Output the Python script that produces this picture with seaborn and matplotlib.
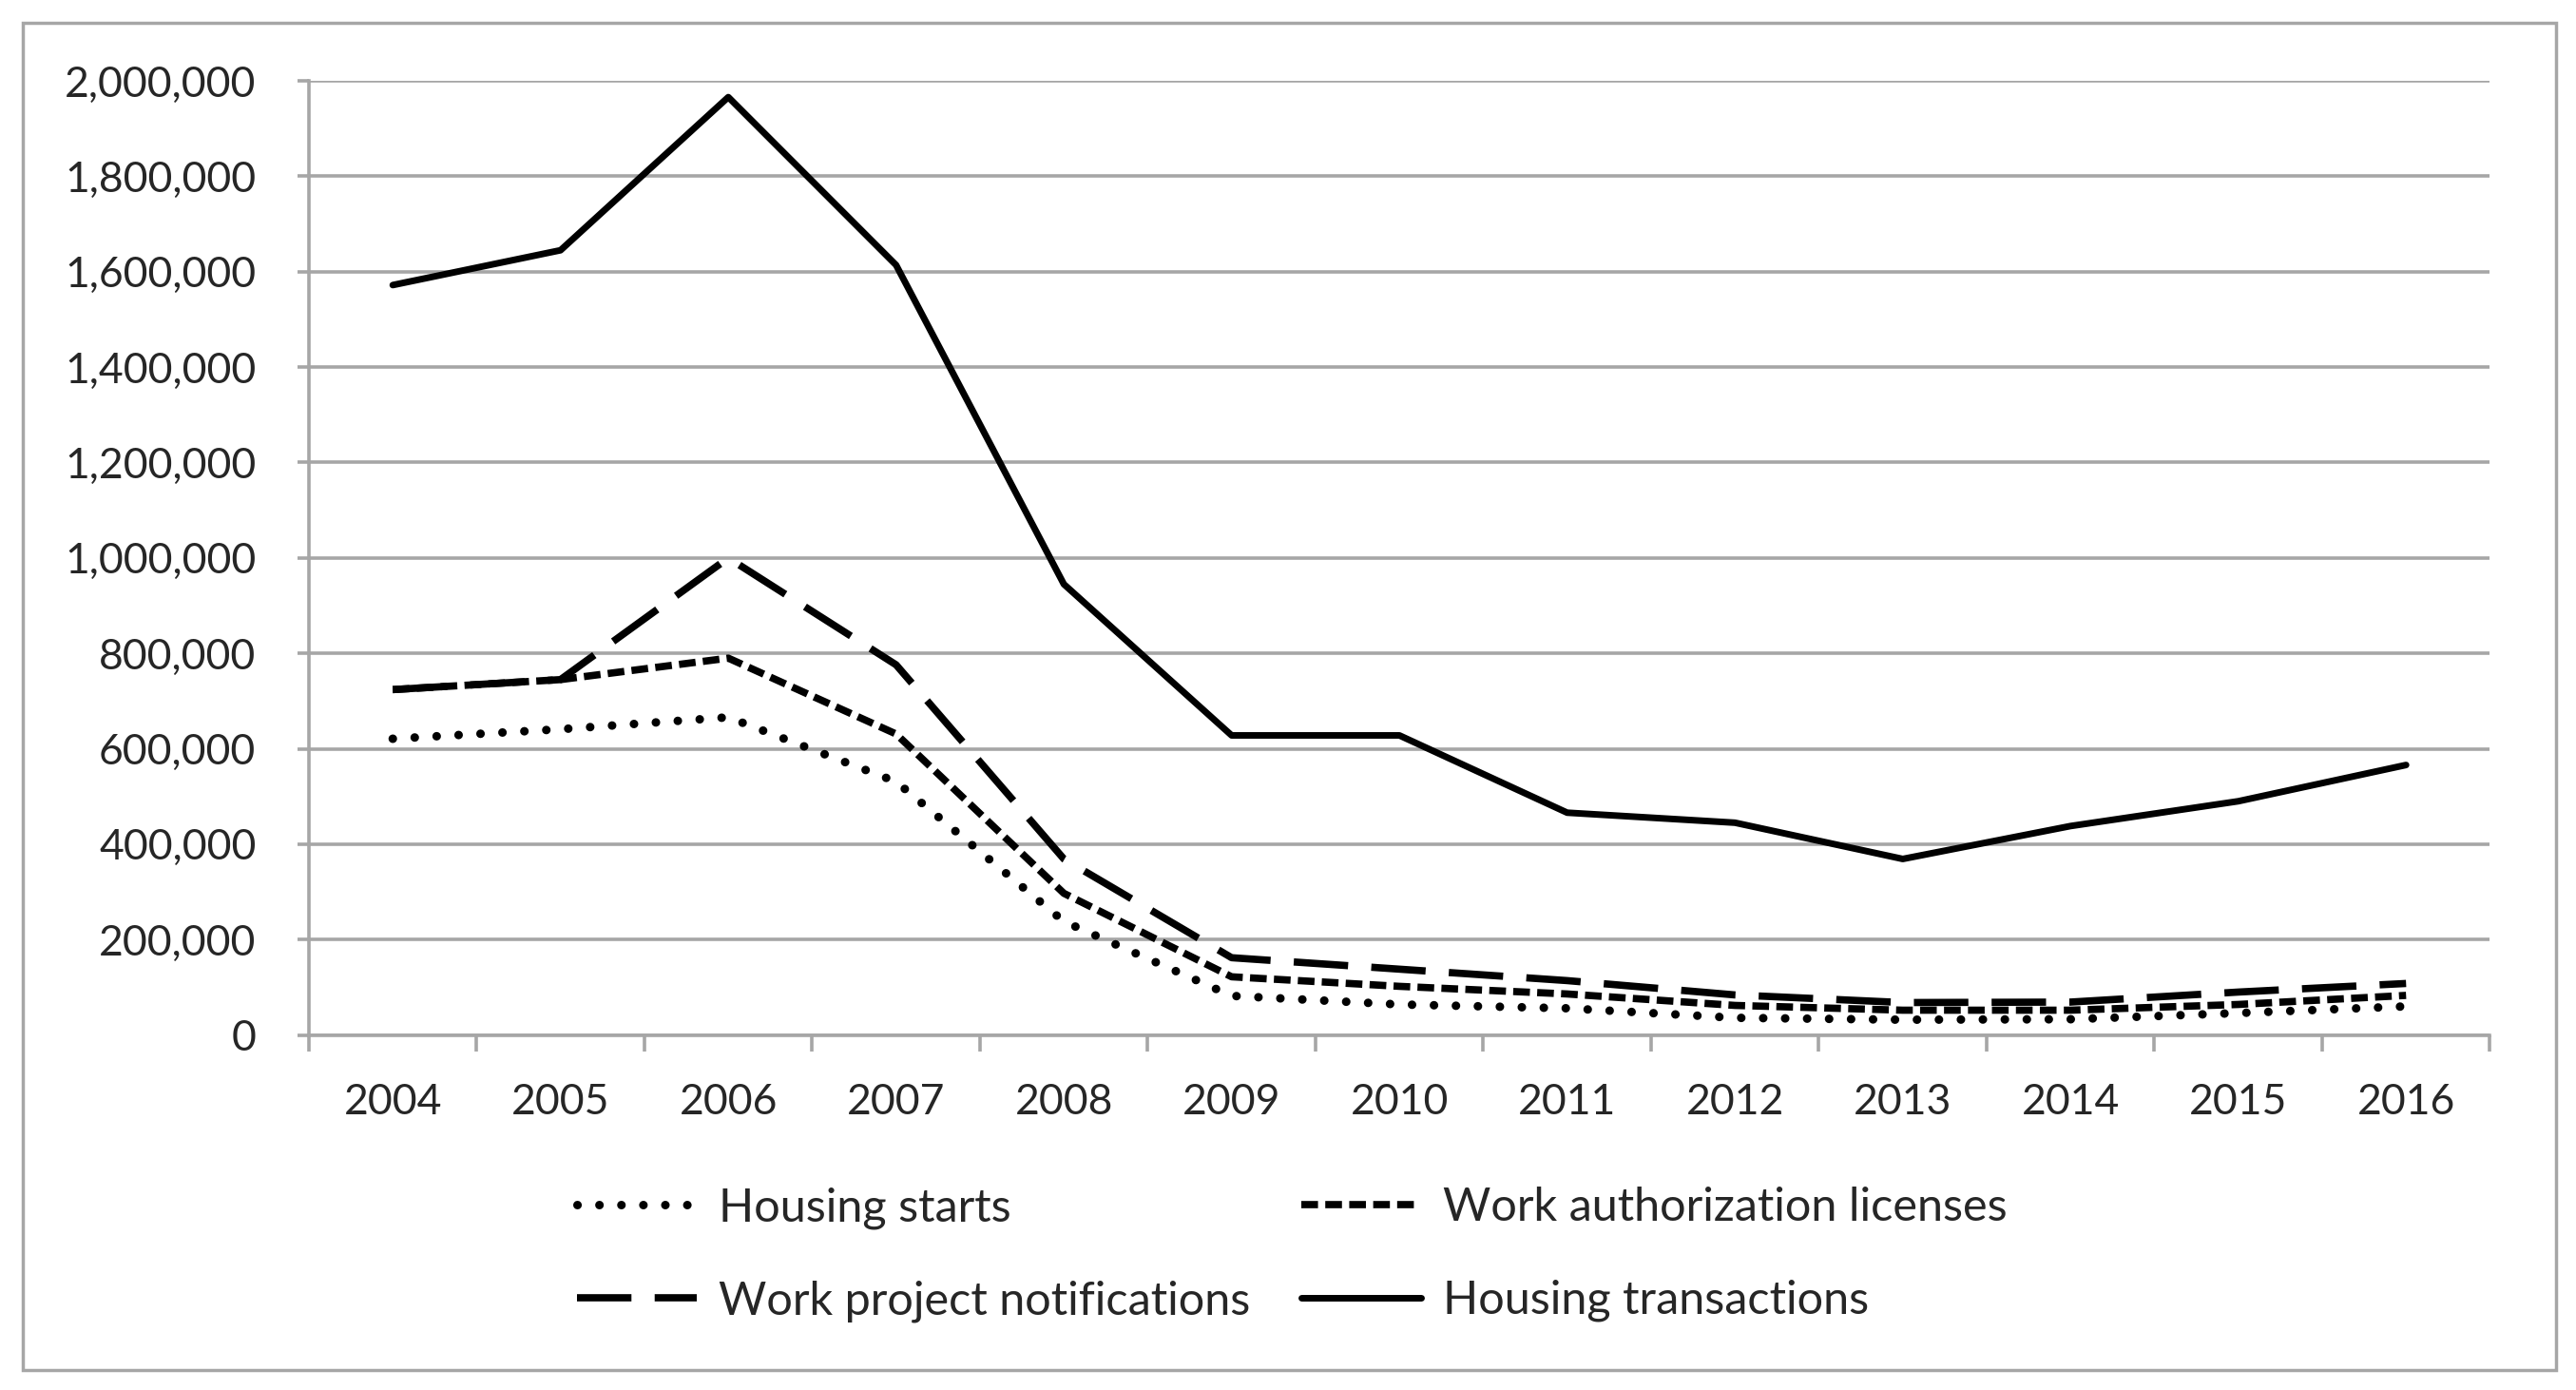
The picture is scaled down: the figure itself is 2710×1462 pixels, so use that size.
import pandas as pd
import seaborn as sns
import matplotlib.pyplot as plt
from matplotlib.ticker import FuncFormatter, FixedLocator
from matplotlib.patches import Rectangle

# Values
years = [2004, 2005, 2006, 2007, 2008, 2009, 2010, 2011, 2012, 2013, 2014, 2015, 2016]
housing_starts = [621000, 641000, 666000, 531000, 238000, 82000, 64000, 56000, 36000, 32000, 33000, 46000, 60000]
work_auth_licenses = [724000, 745000, 790000, 631000, 297000, 122000, 102000, 86000, 62000, 52000, 52000, 64000, 83000]
work_project_notif = [724000, 745000, 1000000, 776000, 369000, 162000, 138000, 114000, 84000, 68000, 69000, 90000, 108000]
housing_transactions = [1572000, 1645000, 1966000, 1614000, 945000, 628000, 628000, 466000, 445000, 369000, 438000, 490000, 566000]

series = {
    'Housing starts': housing_starts,
    'Work authorization licenses': work_auth_licenses,
    'Work project notifications': work_project_notif,
    'Housing transactions': housing_transactions,
}
styles = {
    'Housing starts': dict(linestyle=(0, (0.01, 2.55)), lw=6.5),
    'Work authorization licenses': dict(linestyle=(0, (2.3, 1.0)), lw=5.5),
    'Work project notifications': dict(linestyle=(0, (7.5, 3.2)), lw=5.5),
    'Housing transactions': dict(linestyle='-', lw=5.0),
}

rows = []
for name, vals in series.items():
    for i, v in enumerate(vals):
        rows.append({'idx': i, 'value': v, 'series': name})
df = pd.DataFrame(rows)

sns.set_style('white')
plt.rcParams['font.family'] = ['Lato', 'DejaVu Sans']
text_color = '#262626'
grid_color = '#a6a6a6'

fig = plt.figure(figsize=(27.1, 14.62), dpi=100)
ax = fig.add_axes([0.1199, 0.2554, 0.8467, 0.6864])

handles = {}
for name in series:
    sub = df[df['series'] == name]
    sns.lineplot(data=sub, x='idx', y='value', color='black', ax=ax, label=name,
                 solid_capstyle='round', solid_joinstyle='round', **styles[name])
    line = ax.get_lines()[-1]
    if name == 'Housing starts':
        line.set_dash_capstyle('round')
    handles[name] = line

ax.set_xlim(-0.5, len(years) - 0.5)
ax.set_ylim(0, 2000000)
ax.set_yticks(range(0, 2000001, 200000))
ax.yaxis.set_major_formatter(FuncFormatter(lambda v, p: f'{v:,.0f}'))
ax.set_xticks(range(len(years)))
ax.set_xticklabels([str(y) for y in years])
ax.xaxis.set_minor_locator(FixedLocator([i - 0.5 for i in range(len(years) + 1)]))

ax.grid(axis='y', color=grid_color, lw=2.6)
ax.grid(axis='x', visible=False)
ax.set_axisbelow(True)
for s in ['top', 'right']:
    ax.spines[s].set_visible(False)
for s in ['left', 'bottom']:
    ax.spines[s].set_color(grid_color)
    ax.spines[s].set_linewidth(2.6)

ax.tick_params(axis='y', which='major', length=9, width=2.6, color=grid_color,
               pad=31, labelsize=32, labelcolor=text_color, left=True)
ax.tick_params(axis='x', which='major', length=0, pad=36, labelsize=32, labelcolor=text_color)
ax.tick_params(axis='x', which='minor', length=12, width=2.6, color=grid_color, bottom=True)
ax.set_xlabel('')
ax.set_ylabel('')

order = ['Housing starts', 'Work project notifications', 'Work authorization licenses', 'Housing transactions']
leg = ax.legend([handles[n] for n in order], order, ncol=2, loc='center',
                bbox_to_anchor=(0.5015, 0.0975), bbox_transform=fig.transFigure,
                frameon=False, fontsize=35, handlelength=2.6, handletextpad=0.47,
                columnspacing=1.1, labelspacing=1.1, labelcolor=text_color)
for lh in leg.get_lines():
    lh.set_dash_capstyle('round' if lh.get_linewidth() > 6 else 'butt')

fig.patches.append(Rectangle((14 / 1560, 1 - 830 / 842), (1548 - 14) / 1560, (830 - 14) / 842,
                             transform=fig.transFigure, fill=False, edgecolor=grid_color, lw=2.5))

fig.savefig('out.png', dpi=100)
